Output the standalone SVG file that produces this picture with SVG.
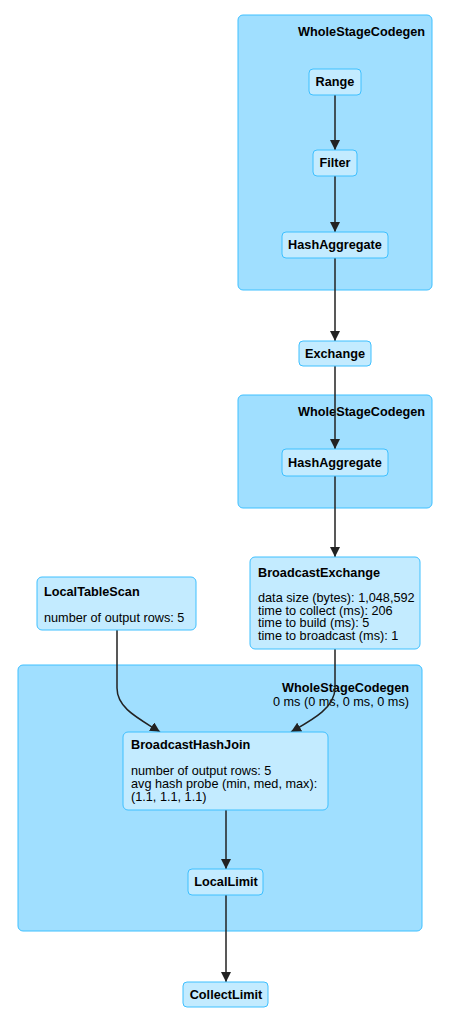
<svg xmlns="http://www.w3.org/2000/svg" width="449" height="1024" viewBox="0 0 449 1024">
<style>
.cl{fill:#A0DFFF;stroke:#3EC0FF;stroke-width:1}
.nd{fill:#C3EBFF;stroke:#3EC0FF;stroke-width:1}
text{font-family:"Liberation Sans",Arial,sans-serif;font-size:12.7px;fill:#000}
.b{font-weight:bold}
.c{text-anchor:middle}
.r{text-anchor:end}
.e{fill:none;stroke:#222;stroke-width:1.5}
</style>
<defs>
<marker id="ah" viewBox="0 0 10 10" refX="10" refY="5" markerWidth="10" markerHeight="10" markerUnits="userSpaceOnUse" orient="auto">
<path d="M0,0 L10,5 L0,10 z" fill="#222"/>
</marker>
</defs>
<g id="cluster1"><rect class="cl" x="238" y="15" width="194" height="275" rx="5"/><text class="b r" x="425" y="36">WholeStageCodegen</text></g>
<g id="cluster2"><rect class="cl" x="238" y="395" width="194" height="113" rx="5"/><text class="b r" x="425" y="416">WholeStageCodegen</text></g>
<g id="cluster3"><rect class="cl" x="18" y="665" width="404" height="266" rx="5"/><text class="b r" x="409" y="692">WholeStageCodegen</text><text class="r" x="409" y="706">0 ms (0 ms, 0 ms, 0 ms)</text></g>
<g id="connectors">
<path class="e" d="M335,95 L335,150" marker-end="url(#ah)"/>
<path class="e" d="M335,176 L335,232" marker-end="url(#ah)"/>
<path class="e" d="M335,258 L335,341" marker-end="url(#ah)"/>
<path class="e" d="M335,366 L335,449" marker-end="url(#ah)"/>
<path class="e" d="M335,476 L335,557" marker-end="url(#ah)"/>
<path class="e" d="M117,630 L117,688 C117,708 138,718 160,732" marker-end="url(#ah)"/>
<path class="e" d="M335,649 L335,688 C335,708 312,720 291,732" marker-end="url(#ah)"/>
<path class="e" d="M226,810 L226,869" marker-end="url(#ah)"/>
<path class="e" d="M226,895 L226,982" marker-end="url(#ah)"/>
</g>
<g id="range"><rect class="nd" x="309" y="69" width="52" height="26" rx="4"/><text class="b c" x="335" y="86">Range</text></g>
<g id="filter"><rect class="nd" x="313" y="150" width="44" height="26" rx="4"/><text class="b c" x="335" y="167">Filter</text></g>
<g id="hashagg1"><rect class="nd" x="282" y="232" width="106" height="26" rx="4"/><text class="b c" x="335" y="249">HashAggregate</text></g>
<g id="exchange"><rect class="nd" x="299" y="341" width="72" height="25" rx="4"/><text class="b c" x="335" y="358">Exchange</text></g>
<g id="hashagg2"><rect class="nd" x="282" y="449" width="106" height="27" rx="4"/><text class="b c" x="335" y="467">HashAggregate</text></g>
<g id="broadcastexchange"><rect class="nd" x="250" y="557" width="170" height="92" rx="5"/><text class="b" x="258" y="577">BroadcastExchange</text><text x="258" y="602">data size (bytes): 1,048,592</text><text x="258" y="615">time to collect (ms): 206</text><text x="258" y="627">time to build (ms): 5</text><text x="258" y="640">time to broadcast (ms): 1</text></g>
<g id="localtablescan"><rect class="nd" x="37" y="577" width="159" height="53" rx="5"/><text class="b" x="44" y="596">LocalTableScan</text><text x="44" y="622">number of output rows: 5</text></g>
<g id="broadcasthashjoin"><rect class="nd" x="123" y="732" width="205" height="78" rx="5"/><text class="b" x="131" y="749">BroadcastHashJoin</text><text x="131" y="775">number of output rows: 5</text><text x="131" y="788">avg hash probe (min, med, max):</text><text x="131" y="801">(1.1, 1.1, 1.1)</text></g>
<g id="locallimit"><rect class="nd" x="188" y="869" width="75" height="26" rx="4"/><text class="b c" x="226" y="886">LocalLimit</text></g>
<g id="collectlimit"><rect class="nd" x="183" y="982" width="85" height="25" rx="4"/><text class="b c" x="226" y="999">CollectLimit</text></g>
</svg>
